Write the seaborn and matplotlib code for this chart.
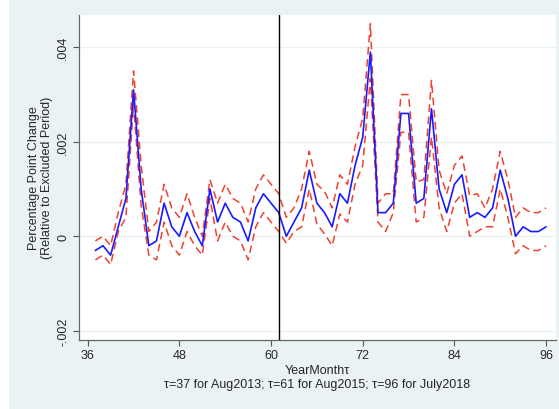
import numpy as np
import pandas as pd
import seaborn as sns
import matplotlib.pyplot as plt
from matplotlib.patches import Rectangle

# event-time index (tau) and estimates
tau = list(range(37, 97))
coef = [-0.0003, -0.0002, -0.0004, 0.0002, 0.0008, 0.0031, 0.0010, -0.0002, -0.0001, 0.0007,
        0.0002, 0.0000, 0.0005, 0.0001, -0.0002, 0.0010, 0.0003, 0.0007, 0.0004, 0.0003,
        -0.0001, 0.0006, 0.0009, 0.0007, 0.0005, 0.0000, 0.0003, 0.0006, 0.0014, 0.0007,
        0.0005, 0.0002, 0.0009, 0.0007, 0.0015, 0.0021, 0.0039, 0.0005, 0.0005, 0.0007,
        0.0026, 0.0026, 0.0007, 0.0008, 0.0027, 0.0010, 0.0005, 0.0011, 0.0013, 0.0004,
        0.0005, 0.0004, 0.0006, 0.0014, 0.0008, 0.0000, 0.0002, 0.0001, 0.0001, 0.0002]
upper = [-0.0001, 0.0000, -0.0002, 0.0005, 0.0011, 0.0035, 0.0015, 0.0001, 0.0003, 0.0011,
         0.0006, 0.0004, 0.0009, 0.0004, 0.0000, 0.0012, 0.0007, 0.0011, 0.0008, 0.0007,
         0.0003, 0.0010, 0.0013, 0.0011, 0.0009, 0.0004, 0.0006, 0.0010, 0.0018, 0.0011,
         0.00095, 0.0006, 0.0013, 0.0011, 0.0019, 0.0025, 0.0045, 0.0007, 0.0009, 0.0009,
         0.0030, 0.0030, 0.00115, 0.0012, 0.0033, 0.0014, 0.0009, 0.0015, 0.0017, 0.00086,
         0.0009, 0.0006, 0.0010, 0.0018, 0.0012, 0.0004, 0.0006, 0.0005, 0.0005, 0.0006]
lower = [-0.0005, -0.0004, -0.0006, 0.0001, 0.0004, 0.0028, 0.00065, -0.0004, -0.0005, 0.0003,
         -0.0002, -0.0004, 0.0001, -0.0002, -0.0004, 0.0008, -0.0001, 0.0003, 0.0000, -0.0001,
         -0.0005, 0.0002, 0.0005, 0.0003, 0.0001, -0.00015, 0.0001, 0.0002, 0.0010, 0.00026,
         0.00005, -0.0002, 0.00047, 0.0003, 0.0011, 0.0015, 0.00334, 0.0003, 0.0001, 0.0005,
         0.0022, 0.0022, 0.0003, 0.0004, 0.0021, 0.0006, 0.0001, 0.0007, 0.0009, 0.0000,
         0.0001, 0.0002, 0.0002, 0.0010, 0.0004, -0.00037, -0.0002, -0.0003, -0.0003, -0.0002]

xticks = [36, 48, 60, 72, 84, 96]
yticks = [-0.002, 0, 0.002, 0.004]
ytick_labels = ['-.002', '0', '.002', '.004']

df = pd.DataFrame({'tau': tau, 'coef': coef, 'upper': upper, 'lower': lower})

sns.set_style('white')
plt.rcParams['font.family'] = ['Liberation Sans', 'DejaVu Sans']

bg = '#eaf2f3'
fig = plt.figure(figsize=(5.59, 4.10), dpi=100, facecolor='white')
fig.patches.append(Rectangle((9 / 559, 0), 1, 1, transform=fig.transFigure,
                             facecolor=bg, edgecolor='none', zorder=-10))
ax = fig.add_axes([79 / 559, 1 - 340.5 / 410, (556 - 79) / 559, (340.5 - 16) / 410])
ax.set_facecolor('white')

# grid lines at y ticks
for yv in yticks:
    ax.axhline(yv, color=bg, lw=1.0, zorder=0)

sns.lineplot(data=df, x='tau', y='upper', ax=ax, color='#f0412f', lw=1.1,
             linestyle=(0, (5, 3)), zorder=2)
sns.lineplot(data=df, x='tau', y='lower', ax=ax, color='#f0412f', lw=1.1,
             linestyle=(0, (5, 3)), zorder=2)
sns.lineplot(data=df, x='tau', y='coef', ax=ax, color='#1a1aff', lw=1.2, zorder=3)
ax.axvline(61, color='black', lw=1.0, zorder=4)

ax.set_xlim(34.86, 97.3)
ax.set_ylim(-0.002186, 0.004684)
ax.set_xticks(xticks)
ax.set_xticklabels([str(t) for t in xticks], fontsize=9)
ax.set_yticks(yticks)
ax.set_yticklabels(ytick_labels, fontsize=9, rotation=90, va='center')
ax.tick_params(axis='both', direction='out', length=4, width=0.8, color='#555555',
               pad=3, left=True, bottom=True)

for side in ['top', 'right']:
    ax.spines[side].set_visible(False)
for side in ['left', 'bottom']:
    ax.spines[side].set_color('#666666')
    ax.spines[side].set_linewidth(0.9)

ax.set_xlabel('YearMonth\u03c4\n\u03c4=37 for Aug2013; \u03c4=61 for Aug2015; \u03c4=96 for July2018',
              fontsize=9, labelpad=2, linespacing=1.2)
ax.set_ylabel('Percentage Point Change\n(Relative to Excluded Period)',
              fontsize=9, labelpad=3, linespacing=1.1)

fig.savefig('out.png', dpi=100, facecolor=fig.get_facecolor())
